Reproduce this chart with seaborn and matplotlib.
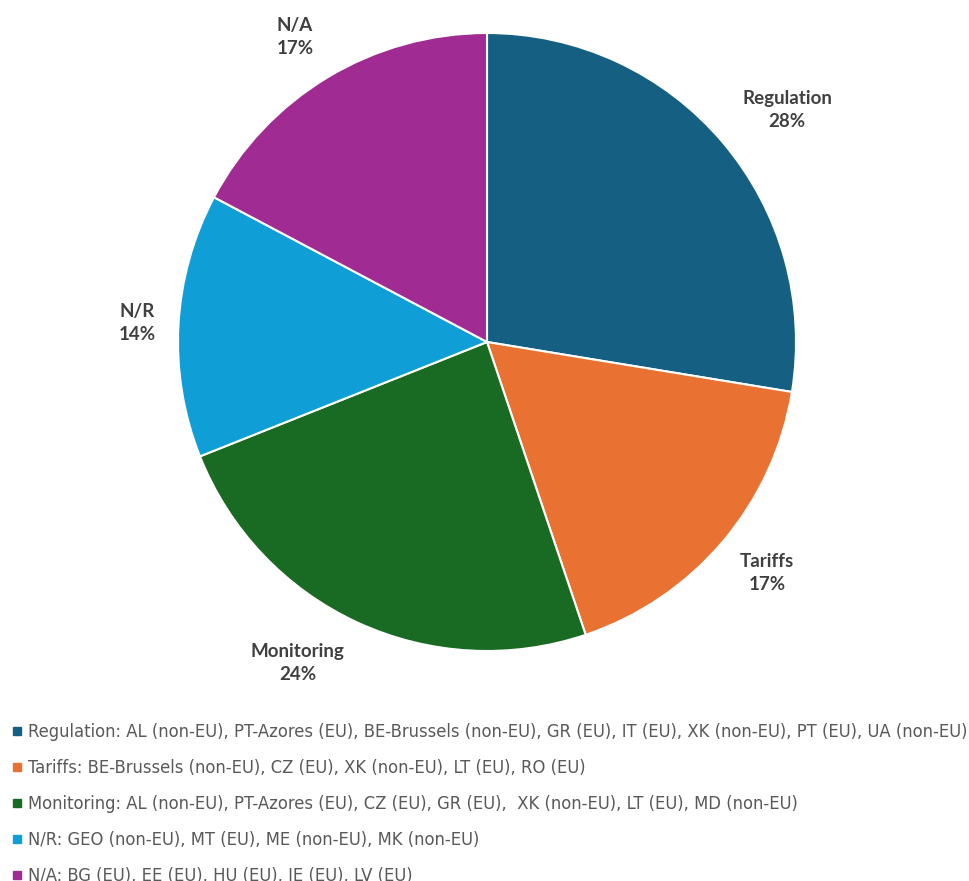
import matplotlib
matplotlib.use("Agg")
import matplotlib.pyplot as plt
from matplotlib import font_manager
from matplotlib.lines import Line2D
import seaborn as sns

categories = ["Regulation", "Tariffs", "Monitoring", "N/R", "N/A"]
counts = [8, 5, 7, 4, 5]
members = [
    "AL (non-EU), PT-Azores (EU), BE-Brussels (non-EU), GR (EU), IT (EU), XK (non-EU), PT (EU), UA (non-EU)",
    "BE-Brussels (non-EU), CZ (EU), XK (non-EU), LT (EU), RO (EU)",
    "AL (non-EU), PT-Azores (EU), CZ (EU), GR (EU),  XK (non-EU), LT (EU), MD (non-EU)",
    "GEO (non-EU), MT (EU), ME (non-EU), MK (non-EU)",
    "BG (EU), EE (EU), HU (EU), IE (EU), LV (EU)",
]
colors = ["#156082", "#E97132", "#196B24", "#0F9ED5", "#A02B93"]

sns.set_theme(style="white")
palette = sns.color_palette(colors)

entries = font_manager.fontManager.ttflist
installed = {f.name for f in entries}
condensed = [f for f in entries
             if str(f.stretch) in ("condensed", "semi-condensed", "extra-condensed")
             and str(f.weight) in ("normal", "400", "regular")
             and str(f.style) == "normal"]
legend_prop = dict(size=13)
if condensed:
    legend_prop["fname"] = condensed[0].fname
else:
    legend_prop["family"] = "DejaVu Sans"
label_font = "Lato" if "Lato" in installed else "DejaVu Sans"

W, H = 970, 881
fig = plt.figure(figsize=(W / 100, H / 100), dpi=100)
cx, cy, r = 487, 342, 309
ax = fig.add_axes([(cx - r) / W, (H - cy - r) / H, 2 * r / W, 2 * r / H])

total = sum(counts)
wedges, _ = ax.pie(
    counts,
    colors=palette,
    startangle=90,
    counterclock=False,
    radius=1.0,
    wedgeprops=dict(edgecolor="white", linewidth=1.5),
)
ax.set_xlim(-1, 1)
ax.set_ylim(-1, 1)
ax.set_aspect("equal")
ax.axis("off")

# label anchor points in pie-radius units
label_pos = [(0.971, 0.751), (0.906, -0.748), (-0.612, -1.039), (-1.133, 0.061), (-0.621, 0.987)]
for name, c, (lx, ly) in zip(categories, counts, label_pos):
    pct = round(100 * c / total)
    ax.text(lx, ly, f"{name}\n{pct}%", ha="center", va="center",
            fontsize=13.5, fontweight="bold", color="#404040",
            family=label_font, linespacing=1.45, clip_on=False)

handles = [Line2D([0], [0], marker="s", linestyle="none", markersize=6,
                  markerfacecolor=col, markeredgecolor=col) for col in palette]
labels = [f"{n}: {m}" for n, m in zip(categories, members)]


def draw_legend(prop, spacing):
    return fig.legend(handles, labels, loc="upper left",
                      bbox_to_anchor=(12 / W, 1 - 723 / H), frameon=False,
                      prop=font_manager.FontProperties(**prop), labelcolor="#595959",
                      handlelength=0.6, handletextpad=0.3, labelspacing=spacing,
                      borderaxespad=0, borderpad=0)


leg = draw_legend(legend_prop, 1.0)
fig.canvas.draw()
renderer = fig.canvas.get_renderer()
widest = max(t.get_window_extent(renderer).width for t in leg.get_texts())
target = 939.0
leg.remove()
legend_prop["size"] = 13 * target / widest
leg = draw_legend(legend_prop, 1.0 * 13 / legend_prop["size"])

fig.savefig("out.png", dpi=100, facecolor="white")
